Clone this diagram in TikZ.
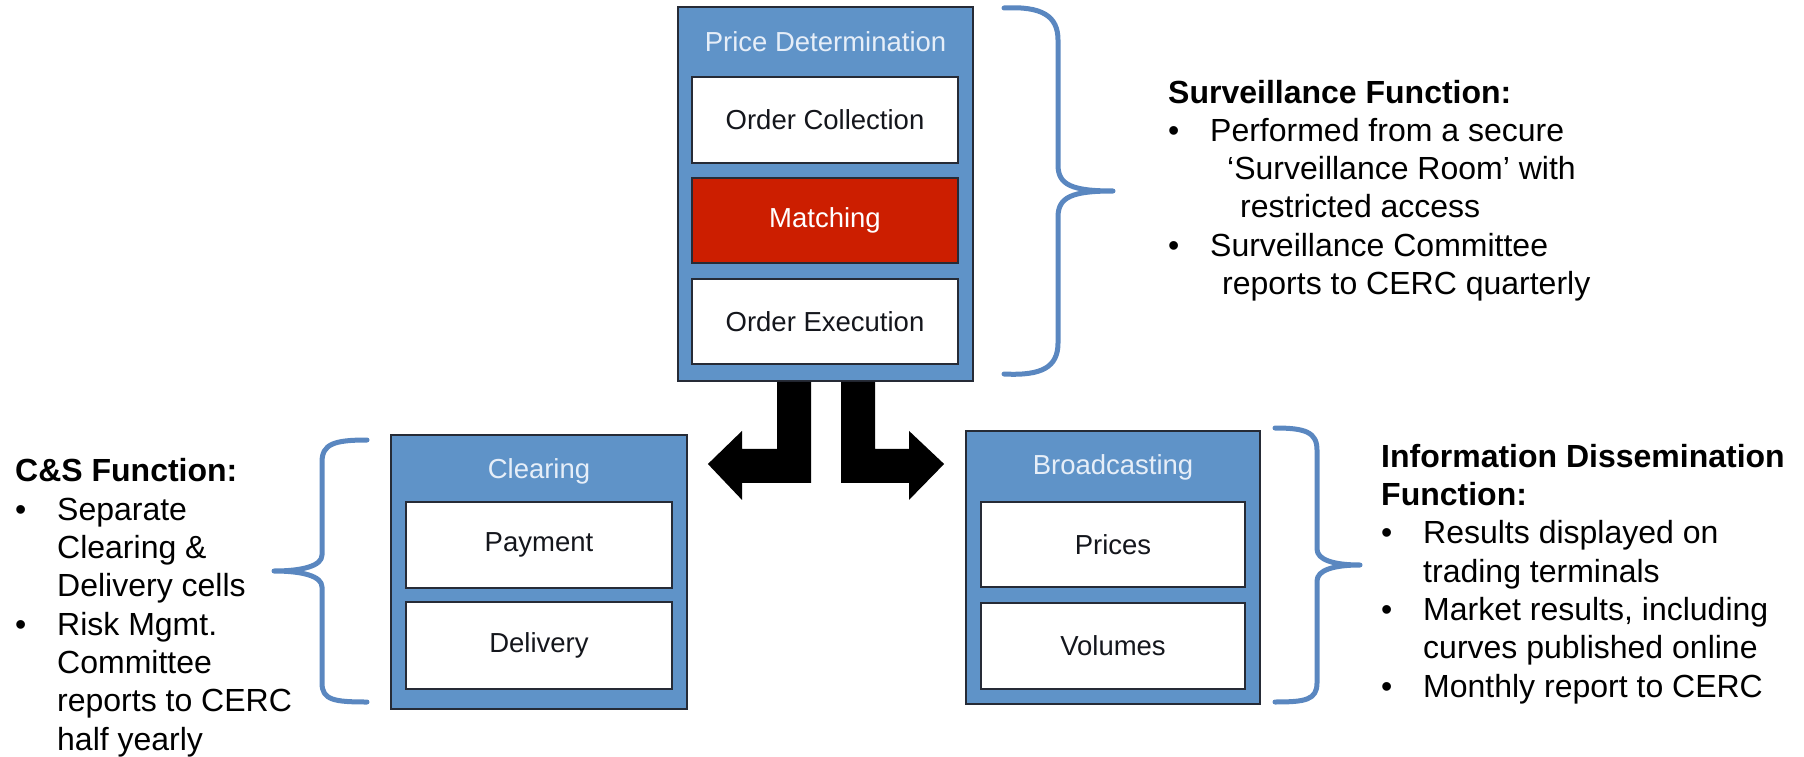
\documentclass[tikz,border=0pt]{standalone}
\usepackage{fontspec}
\setmainfont{Liberation Sans}
\usetikzlibrary{calc}

\definecolor{panelblue}{HTML}{5F93C8}
\definecolor{braceblue}{HTML}{5A87C0}
\definecolor{edgedark}{HTML}{262B36}
\definecolor{matchred}{HTML}{CC1E00}
\definecolor{titlewhite}{HTML}{E6EEF8}
\definecolor{celltext}{HTML}{14161C}

\begin{document}
\begin{tikzpicture}[x=1pt,y=-1pt,
  panel/.style={draw=edgedark, line width=1.8pt, fill=panelblue, inner sep=0pt},
  cell/.style={draw=edgedark, line width=1.8pt, fill=white, inner sep=0pt,
    text=celltext, font=\fontsize{27.5pt}{32pt}\selectfont},
  hotcell/.style={cell, fill=matchred, text=white},
  paneltitle/.style={inner sep=0pt, text=titlewhite, font=\fontsize{27.5pt}{32pt}\selectfont},
  % multi-line notes are placed by the baseline of their last line
  note/.style={anchor=base west, inner sep=0pt, align=left,
    font=\fontsize{32pt}{38.3pt}\selectfont},
  brace/.style={draw=braceblue, line width=5pt, line cap=round, line join=round},
  blockarrow/.style={fill=black}
]
\useasboundingbox (0,0) rectangle (1804,757);

% Price determination panel
\node[panel, minimum width=295pt, minimum height=374pt] (pd) at (825.5,194) {};
\node[paneltitle] (pdt) at (825.5,42) {Price Determination};
\node[cell, minimum width=266pt, minimum height=86pt] (oc) at (825,120) {Order Collection};
\node[hotcell, minimum width=266pt, minimum height=85pt] (mt) at (825,220.5) {Matching};
\node[cell, minimum width=266pt, minimum height=85pt] (oe) at (825,321.5) {Order Execution};

% Clearing panel
\node[panel, minimum width=296pt, minimum height=274pt] (cl) at (539,572) {};
\node[paneltitle] (clt) at (539,471) {Clearing};
\node[cell, minimum width=266pt, minimum height=86pt] (pay) at (539,545) {Payment};
\node[cell, minimum width=266pt, minimum height=87pt] (del) at (539,645.5) {Delivery};

% Broadcasting panel
\node[panel, minimum width=294pt, minimum height=273pt] (bc) at (1113,567.5) {};
\node[paneltitle] (bct) at (1113,467) {Broadcasting};
\node[cell, minimum width=264pt, minimum height=85pt] (pr) at (1113,544.5) {Prices};
\node[cell, minimum width=264pt, minimum height=86pt] (vol) at (1113,646) {Volumes};

% Block arrows from the price panel down to both sides
\fill[blockarrow] ($(pd.south)+(-48.5,0)$) -- ($(pd.south)+(-14.5,0)$)
  -- ($(pd.south)+(-14.5,101)$) -- ($(pd.south)+(-83.5,101)$)
  -- ($(pd.south)+(-83.5,118)$) -- ($(cl.east)+(20,-108)$)
  -- ($(pd.south)+(-83.5,49)$) -- ($(pd.south)+(-83.5,67)$)
  -- ($(pd.south)+(-48.5,67)$) -- cycle;
\fill[blockarrow] ($(pd.south)+(15.5,0)$) -- ($(pd.south)+(49.5,0)$)
  -- ($(pd.south)+(49.5,67)$) -- ($(pd.south)+(83.5,67)$)
  -- ($(pd.south)+(83.5,49)$) -- ($(bc.west)+(-21,-103.5)$)
  -- ($(pd.south)+(83.5,118)$) -- ($(pd.south)+(83.5,101)$)
  -- ($(pd.south)+(15.5,101)$) -- cycle;

% Braces
\draw[brace] (1004,8) .. controls (1042,6) and (1058,16) .. (1058,40)
  -- (1058,165) .. controls (1058,185) and (1072,191) .. (1113,191)
  .. controls (1072,191) and (1058,197) .. (1058,217)
  -- (1058,343) .. controls (1058,367) and (1042,376) .. (1004,374);
\draw[brace] (367,440) .. controls (334,440) and (322,444) .. (322,462)
  -- (322,555) .. controls (322,566) and (302,571) .. (274,571)
  .. controls (302,571) and (322,576) .. (322,587)
  -- (322,683) .. controls (322,700) and (334,702) .. (367,702);
\draw[brace] (1275,428) .. controls (1305,428) and (1317,432) .. (1317,450)
  -- (1317,549) .. controls (1317,560) and (1334,565) .. (1360,565)
  .. controls (1334,565) and (1317,570) .. (1317,581)
  -- (1317,683) .. controls (1317,700) and (1305,702) .. (1275,702);

% Descriptions
\node[note] (surv) at (1168,294.5) {%
  \textbf{Surveillance Function:}\\
  \makebox[42pt][l]{•}Performed from a secure\\
  \hspace*{59pt}‘Surveillance Room’ with\\
  \hspace*{72pt}restricted access\\
  \makebox[42pt][l]{•}Surveillance Committee\\
  \hspace*{54pt}reports to CERC quarterly};

\node[note] (cs) at (15,750) {%
  \textbf{C\&S Function:}\\
  \makebox[42pt][l]{•}Separate\\
  \hspace*{42pt}Clearing \&\\
  \hspace*{42pt}Delivery cells\\
  \makebox[42pt][l]{•}Risk Mgmt.\\
  \hspace*{42pt}Committee\\
  \hspace*{42pt}reports to CERC\\
  \hspace*{42pt}half yearly};

\node[note] (info) at (1381,697) {%
  \textbf{Information Dissemination}\\
  \textbf{Function:}\\
  \makebox[42pt][l]{•}Results displayed on\\
  \hspace*{42pt}trading terminals\\
  \makebox[42pt][l]{•}Market results, including\\
  \hspace*{42pt}curves published online\\
  \makebox[42pt][l]{•}Monthly report to CERC};
\end{tikzpicture}
\end{document}
